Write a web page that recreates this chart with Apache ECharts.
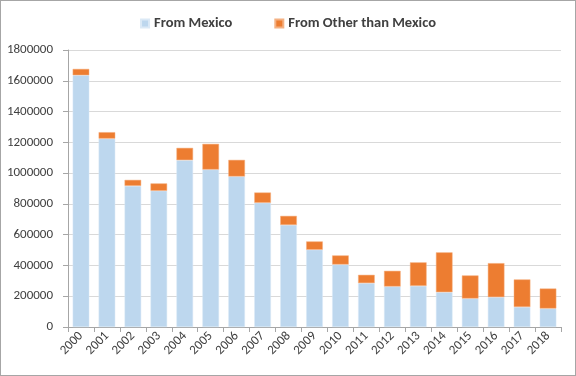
<!DOCTYPE html>
<html>
<head>
<meta charset="utf-8">
<script src="https://cdn.jsdelivr.net/npm/echarts@6/dist/echarts.min.js"></script>
<style>
  html, body { margin: 0; padding: 0; background: #fff; }
  #main { width: 576px; height: 376px; box-sizing: border-box; border: 1px solid #a6a6a6; }
</style>
</head>
<body>
<div id="main"></div>
<script>
var years = ['2000','2001','2002','2003','2004','2005','2006','2007','2008','2009',
             '2010','2011','2012','2013','2014','2015','2016','2017','2018'];
var fromMexico = [1636000, 1224000, 917000, 885000, 1084000, 1023000, 978000, 807000, 663000, 502000,
                  406000, 285000, 263000, 267000, 226000, 185000, 194000, 130000, 120000];
var fromOther = [41000, 42000, 39000, 48000, 80000, 167000, 108000, 67000, 59000, 54000,
                 59000, 54000, 102000, 153000, 259000, 150000, 221000, 179000, 130000];

var font = 'Calibri, Carlito, "Liberation Sans", sans-serif';
var myChart = echarts.init(document.getElementById('main'));
option = {
  textStyle: { fontFamily: font },
  legend: {
    top: 10,
    left: 'center',
    itemWidth: 8,
    itemHeight: 8,
    itemGap: 42,
    icon: 'rect',
    textStyle: { fontSize: 14.5, fontWeight: 'bold', color: '#404040', fontFamily: font }
  },
  grid: { left: 67, right: 14, top: 49, bottom: 48 },
  xAxis: {
    type: 'category',
    data: years,
    axisLine: { lineStyle: { color: '#a6a6a6' } },
    axisTick: { show: true, length: 5, lineStyle: { color: '#a6a6a6' } },
    axisLabel: { rotate: 45, fontSize: 13, color: '#404040', margin: 7, interval: 0 }
  },
  yAxis: {
    type: 'value',
    min: 0,
    max: 1800000,
    interval: 200000,
    axisLine: { show: true, lineStyle: { color: '#a6a6a6' } },
    axisTick: { show: true, length: 5, lineStyle: { color: '#a6a6a6' } },
    splitLine: { lineStyle: { color: '#d9d9d9' } },
    axisLabel: { fontSize: 13, color: '#404040', margin: 15, formatter: function (v) { return String(v); } }
  },
  series: [
    {
      name: 'From Mexico',
      type: 'bar',
      stack: 'total',
      barWidth: '64%',
      data: fromMexico,
      itemStyle: { color: '#bdd7ee', borderColor: '#dbe9f6', borderWidth: 0.5 }
    },
    {
      name: 'From Other than Mexico',
      type: 'bar',
      stack: 'total',
      data: fromOther,
      itemStyle: { color: '#ed7d31', borderColor: '#f4b183', borderWidth: 0.5 }
    }
  ]
};
myChart.setOption(option);
</script>
</body>
</html>
